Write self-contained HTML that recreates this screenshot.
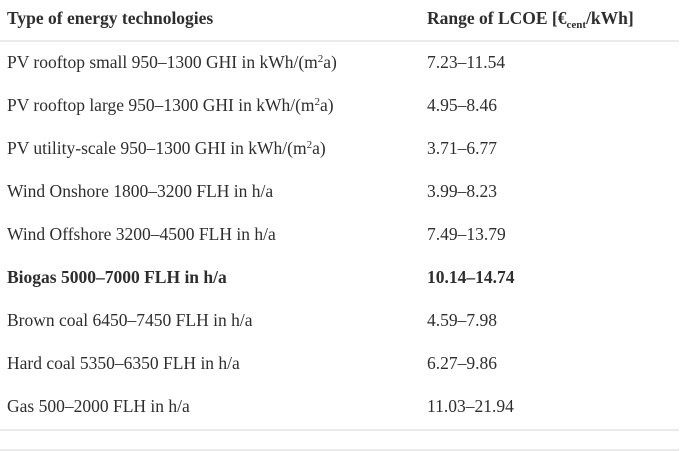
<!DOCTYPE html>
<html>
<head>
<meta charset="utf-8">
<style>
  html,body{margin:0;padding:0;background:#fff;}
  body{width:695px;height:451px;position:relative;overflow:hidden;
       font-family:"Liberation Serif","DejaVu Serif",serif;color:#2e2e2e;font-size:17.5px;}
  .t{position:absolute;white-space:nowrap;line-height:20px;}
  .c1{left:7px;}
  .c2{left:427px;}
  .b{font-weight:bold;}
  .sup{font-size:11px;position:relative;top:-6px;}
  .sub{font-size:11px;position:relative;top:4px;}
  .line{position:absolute;left:0;width:679px;height:2px;background:#ebebeb;}
</style>
</head>
<body>
  <div class="t c1 b" style="top:8px;">Type of energy technologies</div>
  <div class="t c2 b" style="top:8px;">Range of LCOE [€<span class="sub">cent</span>/kWh]</div>
  <div class="line" style="top:40px;"></div>

  <div class="t c1" style="top:52px;">PV rooftop small 950–1300 GHI in kWh/(m<span class="sup">2</span>a)</div>
  <div class="t c2" style="top:52px;">7.23–11.54</div>

  <div class="t c1" style="top:95px;">PV rooftop large 950–1300 GHI in kWh/(m<span class="sup">2</span>a)</div>
  <div class="t c2" style="top:95px;">4.95–8.46</div>

  <div class="t c1" style="top:138px;">PV utility-scale 950–1300 GHI in kWh/(m<span class="sup">2</span>a)</div>
  <div class="t c2" style="top:138px;">3.71–6.77</div>

  <div class="t c1" style="top:181px;">Wind Onshore 1800–3200 FLH in h/a</div>
  <div class="t c2" style="top:181px;">3.99–8.23</div>

  <div class="t c1" style="top:224px;">Wind Offshore 3200–4500 FLH in h/a</div>
  <div class="t c2" style="top:224px;">7.49–13.79</div>

  <div class="t c1 b" style="top:267px;">Biogas 5000–7000 FLH in h/a</div>
  <div class="t c2 b" style="top:267px;">10.14–14.74</div>

  <div class="t c1" style="top:310px;">Brown coal 6450–7450 FLH in h/a</div>
  <div class="t c2" style="top:310px;">4.59–7.98</div>

  <div class="t c1" style="top:353px;">Hard coal 5350–6350 FLH in h/a</div>
  <div class="t c2" style="top:353px;">6.27–9.86</div>

  <div class="t c1" style="top:396px;">Gas 500–2000 FLH in h/a</div>
  <div class="t c2" style="top:396px;">11.03–21.94</div>

  <div class="line" style="top:429px;"></div>
  <div class="line" style="top:449px;"></div>
</body>
</html>
